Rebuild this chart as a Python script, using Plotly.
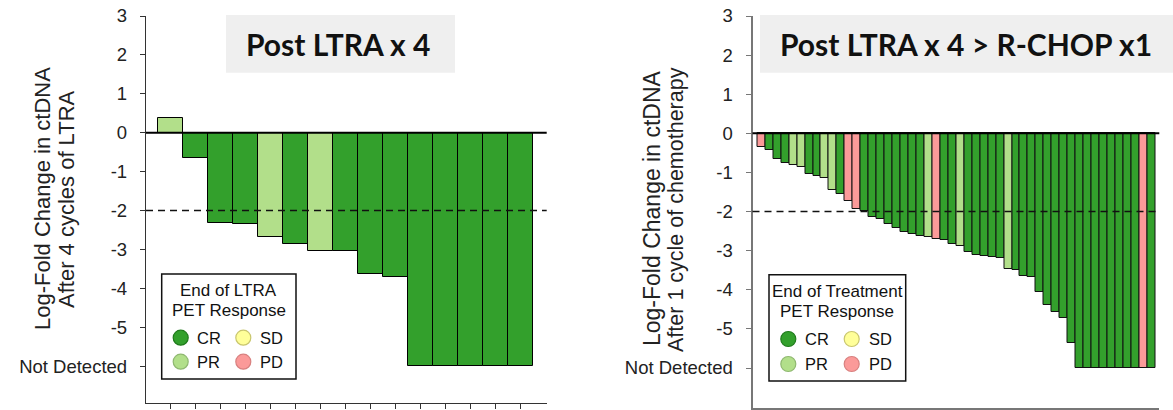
import plotly.graph_objects as go

# ---------------- data ----------------
ltra_values = [0.39, -0.65, -2.31, -2.35, -2.68, -2.85, -3.05, -3.05, -3.63, -3.72,
               -6, -6, -6, -6, -6]
ltra_response = ["PR", "CR", "CR", "CR", "PR", "CR", "PR", "CR", "CR", "CR",
                 "CR", "CR", "CR", "CR", "CR"]

chop_values = [-0.34, -0.42, -0.65, -0.77, -0.81, -0.86, -1.05, -1.08, -1.14, -1.44,
               -1.56, -1.72, -1.94, -1.99, -2.14, -2.18, -2.32, -2.43, -2.53, -2.57,
               -2.62, -2.66, -2.70, -2.72, -2.84, -2.87, -3.04, -3.10, -3.14, -3.16,
               -3.18, -3.46, -3.50, -3.65, -3.67, -4.06, -4.38, -4.57, -4.71, -5.35,
               -6, -6, -6, -6, -6, -6, -6, -6, -6, -6]
chop_response = ["PD", "CR", "CR", "CR", "PR", "PR", "CR", "CR", "PR", "PR",
                 "CR", "PD", "PD", "CR", "CR", "CR", "CR", "CR", "CR", "CR",
                 "CR", "PR", "PD", "CR", "CR", "PR", "CR", "CR", "CR", "CR",
                 "CR", "PR", "CR", "CR", "CR", "CR", "CR", "CR", "CR", "CR",
                 "CR", "CR", "CR", "CR", "CR", "CR", "CR", "CR", "PD", "CR"]

ytick_vals = [3, 2, 1, 0, -1, -2, -3, -4, -5, -6]
ytick_text = ["3", "2", "1", "0", "-1", "-2", "-3", "-4", "-5", "Not Detected"]
threshold = -2
legend_items = ["CR", "SD", "PR", "PD"]

# ---------------- style ----------------
COLORS = {"CR": "#33a02c", "PR": "#b2df8a", "SD": "#ffff99", "PD": "#fb9a99"}
OUTLINE = {"CR": "#1f7a1b", "PR": "#8fb870", "SD": "#c9c66e", "PD": "#d8807f"}
W, H = 1173, 410
FONT = "Liberation Sans, Arial, sans-serif"
TITLE_FONT = "Lato, Open Sans, sans-serif"


def px(x):
    return x / W


def py(y):
    return 1 - y / H


fig = go.Figure()
fig.add_trace(go.Bar(
    x=list(range(len(ltra_values))), y=ltra_values, width=1,
    marker=dict(color=[COLORS[r] for r in ltra_response],
                line=dict(color="#000000", width=1)),
    xaxis="x", yaxis="y", showlegend=False, hoverinfo="y"))
fig.add_trace(go.Bar(
    x=list(range(len(chop_values))), y=chop_values, width=1,
    marker=dict(color=[COLORS[r] for r in chop_response],
                line=dict(color="#111111", width=1)),
    xaxis="x2", yaxis="y2", showlegend=False, hoverinfo="y"))

yaxis_common = dict(tickvals=ytick_vals, ticktext=ytick_text, ticks="outside",
                    ticklen=5, showgrid=False, zeroline=False, showline=True,
                    tickfont=dict(family=FONT, size=18.5, color="#222"),
                    ticklabelstandoff=9, automargin=False)

fig.update_layout(
    width=W, height=H, margin=dict(l=0, r=0, t=0, b=0, autoexpand=False),
    plot_bgcolor="white", paper_bgcolor="white", bargap=0,
    xaxis=dict(domain=[px(146), px(546.7)], range=[-0.99, 15.04],
               tickvals=list(range(len(ltra_values))), showticklabels=False,
               ticks="outside", ticklen=5, tickcolor="#333", showgrid=False,
               zeroline=False, showline=True, linecolor="#333", linewidth=1.3,
               anchor="y", automargin=False),
    yaxis=dict(domain=[py(403), py(16)], range=[-6.95, 3], anchor="x",
               linecolor="#333", linewidth=1.3, tickcolor="#333", **yaxis_common),
    xaxis2=dict(domain=[px(752.5), px(1159.3)], range=[-1.1, 50.0],
                tickvals=list(range(len(chop_values))), showticklabels=False,
                ticks="outside", ticklen=3, tickcolor="#aaa", showgrid=False,
                zeroline=False, showline=True, linecolor="#777", linewidth=2,
                anchor="y2", automargin=False),
    yaxis2=dict(domain=[py(408.3), py(16)], range=[-7.03, 3], anchor="x2",
                linecolor="#777", linewidth=2, tickcolor="#777", **yaxis_common),
)

shapes = []
for xr, yr in (("x", "y"), ("x2", "y2")):
    shapes.append(dict(type="line", xref=f"{xr} domain", yref=yr, x0=0, x1=1,
                       y0=0, y1=0, line=dict(color="#000", width=2), layer="above"))
    shapes.append(dict(type="line", xref=f"{xr} domain", yref=yr, x0=0, x1=1,
                       y0=threshold, y1=threshold,
                       line=dict(color="#111", width=1.5, dash="7px,5px"),
                       layer="above"))

# title boxes
shapes.append(dict(type="rect", xref="paper", yref="paper", x0=px(226), x1=px(455),
                   y0=py(72.7), y1=py(15), fillcolor="#efefef", line=dict(width=0),
                   layer="below"))
shapes.append(dict(type="rect", xref="paper", yref="paper", x0=px(760), x1=px(1173),
                   y0=py(72.7), y1=py(15), fillcolor="#efefef", line=dict(width=0),
                   layer="below"))

annotations = [
    dict(text="<b>Post LTRA x 4</b>", x=px(338.4), y=py(44), xref="paper", yref="paper",
         showarrow=False, xanchor="center", yanchor="middle",
         font=dict(family=TITLE_FONT, size=30, color="#111")),
    dict(text="<b>Post LTRA x 4 > R-CHOP x1</b>", x=px(965.8), y=py(44), xref="paper",
         yref="paper", showarrow=False, xanchor="center", yanchor="middle",
         font=dict(family=TITLE_FONT, size=30, color="#111")),
    # y-axis titles
    dict(text="Log-Fold Change in ctDNA", x=px(42), y=py(199), xref="paper",
         yref="paper", showarrow=False, textangle=-90, xanchor="center",
         yanchor="middle", font=dict(family=FONT, size=22, color="#222")),
    dict(text="After 4 cycles of LTRA", x=px(66), y=py(199), xref="paper",
         yref="paper", showarrow=False, textangle=-90, xanchor="center",
         yanchor="middle", font=dict(family=FONT, size=22, color="#222")),
    dict(text="Log-Fold Change in ctDNA", x=px(652), y=py(208), xref="paper",
         yref="paper", showarrow=False, textangle=-90, xanchor="center",
         yanchor="middle", font=dict(family=FONT, size=23, color="#222")),
    dict(text="After 1 cycle of chemotherapy", x=px(676), y=py(210), xref="paper",
         yref="paper", showarrow=False, textangle=-90, xanchor="center",
         yanchor="middle", font=dict(family=FONT, size=21.5, color="#222")),
]


def add_legend(box, title_lines, title_x, title_ys, circ_x, circ_y, text_x):
    x0, x1, y0, y1 = box
    shapes.append(dict(type="rect", xref="paper", yref="paper", x0=px(x0), x1=px(x1),
                       y0=py(y1), y1=py(y0), fillcolor="white",
                       line=dict(color="#111", width=1.5), layer="above"))
    for line, ty in zip(title_lines, title_ys):
        annotations.append(dict(text=line, x=px(title_x), y=py(ty), xref="paper",
                                yref="paper", showarrow=False, xanchor="center",
                                yanchor="middle",
                                font=dict(family=FONT, size=17, color="#111")))
    r = 7.5
    for i, item in enumerate(legend_items):
        cx = circ_x[i % 2]
        cy = circ_y[i // 2]
        shapes.append(dict(type="circle", xref="paper", yref="paper",
                           x0=px(cx - r), x1=px(cx + r), y0=py(cy + r), y1=py(cy - r),
                           fillcolor=COLORS[item],
                           line=dict(color=OUTLINE[item], width=1.2), layer="above"))
        annotations.append(dict(text=item, x=px(text_x[i % 2]), y=py(cy), xref="paper",
                                yref="paper", showarrow=False, xanchor="left",
                                yanchor="middle",
                                font=dict(family=FONT, size=16.5, color="#111")))


add_legend((161.7, 296, 274, 379), ["End of LTRA", "PET Response"], 228.9,
           [290.7, 310], [180.7, 243.3], [337.7, 361.7], [195, 257.5])
add_legend((769, 905.7, 274.7, 381), ["End of Treatment", "PET Response"], 837.3,
           [291.7, 311], [788.3, 851.7], [339, 364], [803, 866.5])

fig.update_layout(shapes=shapes, annotations=annotations)
fig.write_html(
    "out.html",
    config={"displayModeBar": False},
    post_script="document.body.style.margin='0';document.body.style.overflow='hidden';",
)
